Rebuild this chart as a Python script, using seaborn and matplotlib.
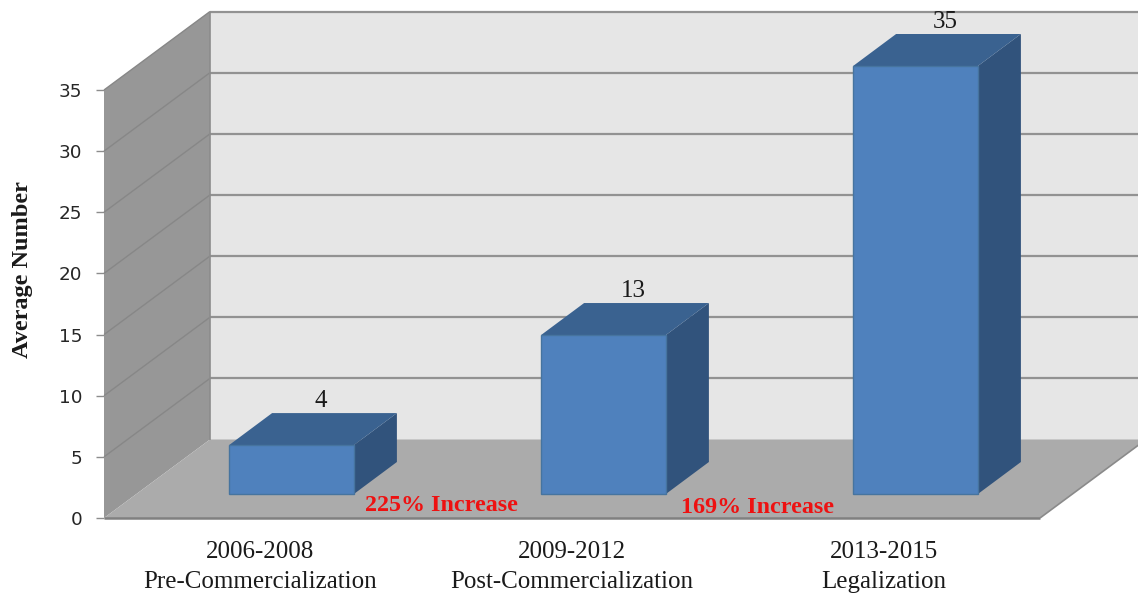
import matplotlib
matplotlib.use('Agg')
import matplotlib.pyplot as plt
import numpy as np
import pandas as pd
import seaborn as sns
from matplotlib.patches import Polygon, Rectangle
from matplotlib.transforms import Affine2D, IdentityTransform

# Values
periods = ['2006-2008', '2009-2012', '2013-2015']
stages = ['Pre-Commercialization', 'Post-Commercialization', 'Legalization']
average_number = [4, 13, 35]
increase_labels = ['225% Increase', '169% Increase']
y_ticks = [0, 5, 10, 15, 20, 25, 30, 35]

SERIF = ['Liberation Serif', 'DejaVu Serif']

sns.set_style('white')
plt.rcParams['font.family'] = SERIF

fig = plt.figure(figsize=(11.38, 5.94), dpi=100)
ax = fig.add_axes([104 / 1138, 76 / 594, 936 / 1138, 428 / 594])
ax.patch.set_visible(False)

df = pd.DataFrame({
    'label': [p + '\n' + s for p, s in zip(periods, stages)],
    'value': average_number,
})
sns.barplot(data=df, x='label', y='value', color='#4f81bd', saturation=1,
            width=0.4, ax=ax, zorder=5, edgecolor='#46749f', linewidth=1)
ax.set_xlim(-0.5, 2.5)
ax.set_ylim(0, 35)

# Pixel depth of the whole box, and where the bars sit inside it
DEPTH = np.array([106.0, 78.5])
BAR_FRONT = np.array([31.5, 24.0])
BAR_BACK = np.array([74.5, 56.0])


def px(x, y, shift=(0, 0)):
    return ax.transData.transform((x, y)) + np.asarray(shift)


def face(points, color, z, edge='none'):
    ax.add_patch(Polygon(points, closed=True, facecolor=color, edgecolor=edge,
                         linewidth=1, transform=IdentityTransform(),
                         clip_on=False, zorder=z))


def seg(a, b, color, lw, z):
    ax.plot([a[0], b[0]], [a[1], b[1]], color=color, lw=lw, solid_capstyle='butt',
            transform=IdentityTransform(), clip_on=False, zorder=z, scalex=False, scaley=False)


bars = [p for p in ax.patches if isinstance(p, Rectangle)]

x0, x1 = -0.5, 2.5
top = y_ticks[-1]

# back wall, side wall, floor
face([px(x0, 0, DEPTH), px(x1, 0, DEPTH), px(x1, top, DEPTH), px(x0, top, DEPTH)], '#e6e6e6', 0.5)
face([px(x0, 0), px(x0, 0, DEPTH), px(x0, top, DEPTH), px(x0, top)], '#979797', 0.6)
face([px(x0, 0), px(x1, 0), px(x1, 0, DEPTH), px(x0, 0, DEPTH)], '#ababab', 0.7)

# gridlines run along both walls
for v in y_ticks:
    if v > 0:
        seg(px(x0, v, DEPTH), px(x1, v, DEPTH), '#929292', 1.6, 0.8)
        seg(px(x0, v), px(x0, v, DEPTH), '#878787', 1.0, 0.8)
seg(px(x0, 0, DEPTH), px(x0, top, DEPTH), '#8c8c8c', 1.2, 0.8)
seg(px(x0, 0), px(x1, 0), '#808080', 1.8, 0.9)
seg(px(x1, 0), px(x1, 0, DEPTH), '#8a8a8a', 1.2, 0.9)

# lift the seaborn bars onto the floor and add the side and top faces
lift = Affine2D().translate(*BAR_FRONT)
for i, bar in enumerate(bars):
    left = bar.get_x()
    right = left + bar.get_width()
    h = bar.get_height()
    bar.set_transform(ax.transData + lift)
    bar.set_clip_on(False)
    face([px(right, 0, BAR_FRONT), px(right, 0, BAR_BACK), px(right, h, BAR_BACK), px(right, h, BAR_FRONT)],
         '#31537c', 4)
    face([px(left, h, BAR_FRONT), px(right, h, BAR_FRONT), px(right, h, BAR_BACK), px(left, h, BAR_BACK)],
         '#3a6290', 4)
    ax.text(i, h, str(average_number[i]), ha='center', va='center', fontsize=18, color='#1a1a1a',
            transform=ax.transData + Affine2D().translate(61, 68), clip_on=False, zorder=6)

# red increase notes on the floor
ax.text(0.583, 1.0, increase_labels[0], color='#ee1111', fontsize=17.3, fontweight='bold',
        ha='center', va='center', zorder=6)
ax.text(1.596, 0.84, increase_labels[1], color='#ee1111', fontsize=17.3, fontweight='bold',
        ha='center', va='center', zorder=6)

sns.despine(ax=ax, left=True, bottom=True, right=True, top=True)
ax.set_yticks(y_ticks)
ax.tick_params(axis='y', left=True, length=5.8, width=1, color='#8c8c8c', pad=10, labelsize=13.2)
for t in ax.get_yticklabels():
    t.set_family('DejaVu Sans')
    t.set_color('#262626')
ax.tick_params(axis='x', bottom=False, pad=13, labelsize=18)
for t in ax.get_xticklabels():
    t.set_color('#1a1a1a')
    t.set_linespacing(1.45)

ax.set_xlabel('')
ax.set_ylabel('Average Number', fontsize=17.5, fontweight='bold', color='#1a1a1a')
ax.yaxis.set_label_coords((33 - 104) / 936, (518 - 270) / 428)

plt.savefig('out.png', dpi=100)
